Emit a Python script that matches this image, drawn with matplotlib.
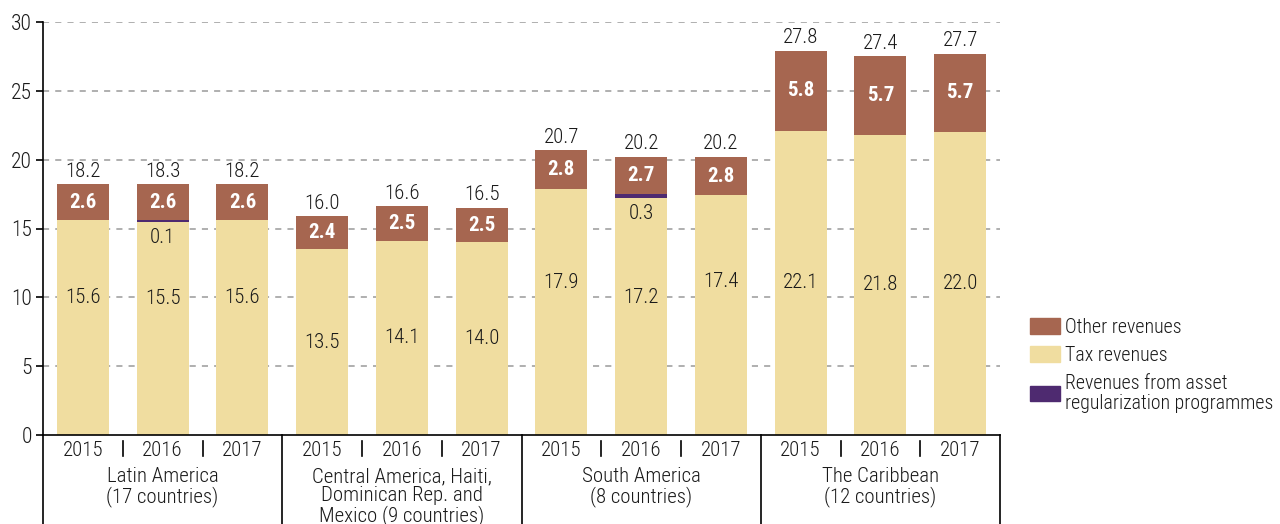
import matplotlib
matplotlib.use("Agg")
import matplotlib.pyplot as plt
from matplotlib.patches import Patch
from matplotlib.transforms import blended_transform_factory
from matplotlib import font_manager

# Fiscal revenue components, % of GDP
groups = ["Latin America\n(17 countries)",
          "Central America, Haiti,\nDominican Rep. and\nMexico (9 countries)",
          "South America\n(8 countries)",
          "The Caribbean\n(12 countries)"]
years = ["2015", "2016", "2017"]

tax_revenues = [15.6, 15.5, 15.6, 13.5, 14.1, 14.0, 17.9, 17.2, 17.4, 22.1, 21.8, 22.0]
asset_regularization = [0.0, 0.1, 0.0, 0.0, 0.0, 0.0, 0.0, 0.3, 0.0, 0.0, 0.0, 0.0]
other_revenues = [2.6, 2.6, 2.6, 2.4, 2.5, 2.5, 2.8, 2.7, 2.8, 5.8, 5.7, 5.7]
totals = [18.2, 18.3, 18.2, 16.0, 16.6, 16.5, 20.7, 20.2, 20.2, 27.8, 27.4, 27.7]

# vertical placement of the tax-revenue value labels (fraction of the tax bar)
tax_label_frac = [0.64, 0.64, 0.64, 0.5, 0.5, 0.5, 0.62, 0.58, 0.64, 0.5, 0.5, 0.5]

available = {f.name for f in font_manager.fontManager.ttflist}
preferred = ["Roboto Condensed", "Liberation Sans Narrow", "Open Sans Condensed",
             "Noto Sans Condensed", "Roboto"]
family = [f for f in preferred if f in available][:1] or ["DejaVu Sans"]
plt.rcParams["font.family"] = family + ["DejaVu Sans"]
plt.rcParams["font.weight"] = "light"

C_OTHER = "#A66650"
C_TAX = "#F0DDA0"
C_ASSET = "#4E2A70"
C_TEXT = "#1a1a1a"

W, H = 1280, 524
fig = plt.figure(figsize=(W / 100, H / 100), dpi=100)
ax = fig.add_axes([43 / W, 1 - 435 / H, (1000 - 43) / W, (435 - 22) / H])

x = list(range(len(tax_revenues)))
bw = 0.65
ax.bar(x, tax_revenues, bw, color=C_TAX, zorder=2)
ax.bar(x, asset_regularization, bw, bottom=tax_revenues, color=C_ASSET, zorder=2)
other_bottom = [t + a for t, a in zip(tax_revenues, asset_regularization)]
ax.bar(x, other_revenues, bw, bottom=other_bottom, color=C_OTHER, zorder=2)

fs = 15
for i in x:
    top = other_bottom[i] + other_revenues[i]
    ax.text(i, top + 0.25, f"{totals[i]:.1f}", ha="center", va="bottom", fontsize=fs, color=C_TEXT)
    ax.text(i, other_bottom[i] + other_revenues[i] / 2, f"{other_revenues[i]:.1f}",
            ha="center", va="center", fontsize=fs, color="white", fontweight="bold")
    ax.text(i, tax_revenues[i] * tax_label_frac[i], f"{tax_revenues[i]:.1f}",
            ha="center", va="center", fontsize=fs, color=C_TEXT)
    if asset_regularization[i] > 0:
        ax.text(i, tax_revenues[i] - 0.45, f"{asset_regularization[i]:.1f}",
                ha="center", va="top", fontsize=fs, color=C_TEXT)

ax.set_xlim(-0.5, len(x) - 0.5)
ax.set_ylim(0, 30)
ax.set_yticks(range(0, 31, 5))
ax.tick_params(axis="y", labelsize=15.5, length=5, width=1.2, color="black", pad=3,
               labelcolor=C_TEXT)
ax.set_xticks([])
for yv in range(5, 31, 5):
    ax.axhline(yv, color="#9a9a9a", lw=1.1, ls=(0, (4, 4)), zorder=1)
for s in ["top", "right"]:
    ax.spines[s].set_visible(False)
ax.spines["left"].set_linewidth(1.2)
ax.spines["bottom"].set_linewidth(1.2)

# category box under the axis
tr = blended_transform_factory(ax.transData, fig.transFigure)
def fy(py):
    return 1 - py / H

for g in range(len(groups) + 1):
    xb = g * 3 - 0.5
    ax.plot([xb, xb], [fy(435), fy(H + 5)], transform=tr, color="black", lw=1.2, clip_on=False)
for g in range(len(groups)):
    for k in (0.5, 1.5):
        xs = g * 3 + k
        ax.plot([xs, xs], [fy(441), fy(456)], transform=tr, color="black", lw=1.2, clip_on=False)
    for j, yr in enumerate(years):
        ax.text(g * 3 + j, fy(451), yr, transform=tr, ha="center", va="center",
                fontsize=fs, color=C_TEXT)
    ax.text(g * 3 + 1, fy(467), groups[g], transform=tr, ha="center", va="top",
            fontsize=fs, linespacing=1.0, color=C_TEXT)

handles = [Patch(color=C_OTHER, label="Other revenues"),
           Patch(color=C_TAX, label="Tax revenues"),
           Patch(color=C_ASSET, label="Revenues from asset\nregularization programmes")]
leg = fig.legend(handles=handles, loc="upper left", bbox_to_anchor=(1022 / W, 1 - 310 / H),
                 frameon=False, fontsize=14.3, handlelength=1.5, handleheight=0.8,
                 handletextpad=0.25, labelspacing=0.45, borderaxespad=0)
for t in leg.get_texts():
    t.set_linespacing(1.05)
    t.set_color(C_TEXT)

fig.savefig("out.png", dpi=100)
